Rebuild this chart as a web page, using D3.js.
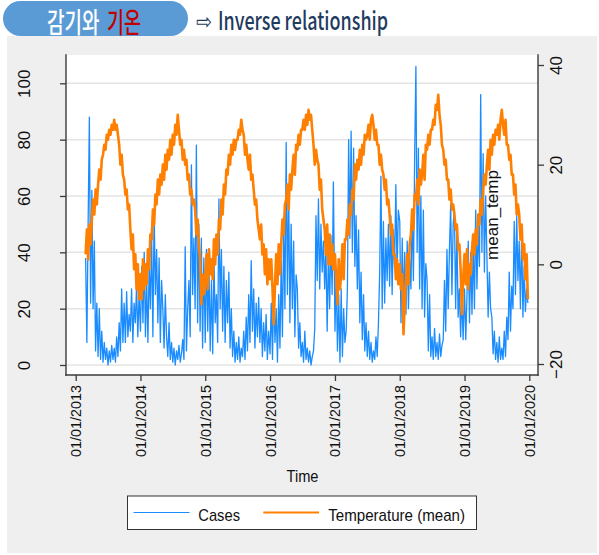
<!DOCTYPE html>
<html><head><meta charset="utf-8">
<script src="https://cdn.jsdelivr.net/npm/d3@7"></script>
<style>body{margin:0;background:#fff;} svg{display:block;}</style>
</head><body>
<svg id="c" width="599" height="555"></svg>
<script>
// ---------- data (weekly readings, week i of a year = Jan 1 + 7*i days) ----------
const years = [2013, 2014, 2015, 2016, 2017, 2018, 2019];
const firstWeek = [8, 0, 0, 0, 0, 0, 0];

const cases2013 = [38, 8,50,88,22, 62,20,44,5,22, 3,20,2,12, 1,8,2,6, 0,5,1,7,2, 6,1,10,3, 15,5,27,8, 22,8,26,10,18, 12,27,8,22, 15,28,10,25];
const cases2014 = [12,35,15,40,10, 30,8,36,20, 46,10,55,25, 41,15,38,8,30, 20,6,25,10, 3,15,2,8, 1,6,0,5,2, 7,1,4,9, 2,42,5,20, 30,10,71,25,45, 20,78,15,50, 12,45,6,38];
const cases2015 = [8,41,12,35,5, 30,4,38,15, 25,8,59,20, 41,12,35,8,30, 15,33,6,20, 3,12,1,8, 2,10,1,6,3, 12,2,17,5, 25,8,37,12, 27,6,22,10,24, 8,20,3,15, 5,18,2,12];
const cases2016 = [4,22,2,27,8, 20,1,25,6, 37,10,50,20, 79,25,63,15,50, 20,44,10,32, 27,6,15,3, 8,1,12,2,6, 1,5,0,3, 5,13,53,30, 59,27,50,33,44, 27,42,12,40, 20,46,25,65];
const cases2017 = [12,32,5,25,1, 27,3,20,8, 12,27,80,45, 83,40,77,35,53, 27,48,15,33, 9,25,5,15, 3,12,2,8,1, 5,2,10,3, 15,33,67,20, 51,22,45,30,50, 28,53,25,48, 35,64,33,55];
const cases2018 = [51,15,45,20,40, 18,44,20,38, 27,55,30,74, 106,40,77,27,60, 20,55,17,36, 30,5,25,3, 10,2,13,3,8, 2,11,3,7, 9,30,12,41, 20,41,57,25,50, 55,20,48,17, 27,10,25,9];
const cases2019 = [27,9,25,44,15, 40,18,44,20, 55,27,50,35, 96,40,75,33,60, 39,17,33,20, 17,4,12,2, 8,1,10,2,6, 2,12,3,17, 9,33,12,28, 20,51,25,53,30, 44,20,48,17, 35,19,27,22];

const temp2013 = [2, 7,1,8,4, 9,13,10,15,12, 16,19,17,21, 22,24,23,26, 25,27,26,28,27, 29,27,28,26, 24,20,22,18, 17,14,15,11,12, 7,3,6,-1, 2,-5,0,-7];
const temp2014 = [-2,-7,1,-5,0, -4,3,-1,6, 5,11,8,14, 12,17,14,18,16, 20,17,22,19, 23,21,25,22, 26,24,28,26,30, 27,24,25,21, 23,20,21,17, 18,14,15,12,13, 11,6,9,4, 1,-8,-2,-6];
const temp2015 = [-3,2,-5,3,-2, 1,-3,5,0, 6,2,9,7, 13,10,16,14,19, 18,22,20,24, 22,25,23,25, 25,27,26,29,27, 26,22,24,21, 19,22,17,18, 15,12,13,9,7, 5,8,2,4, -2,3,-4,1];
const temp2016 = [-3,1,-5,-12,-4, 2,-4,4,-2, 4,9,6,12, 13,16,11,18,15, 19,22,18,24, 23,26,24,27, 27,29,27,30,28, 31,29,30,27, 24,20,23,21, 20,15,17,11,9, 7,2,8,0, 6,0,4,-1];
const temp2017 = [2,-3,-8,1,-5, -2,4,-3,5, 5,9,6,12, 10,15,13,20,17, 21,19,23,20, 24,22,26,25, 26,28,25,29,30, 28,25,27,24, 24,20,22,19, 18,15,17,12,13, 10,6,8,2, 2,-3,1,-4];
const temp2018 = [0,-5,-2,-14,-8, -3,2,-4,4, 6,11,7,14, 13,17,12,19,16, 18,22,17,24, 23,26,24,27, 27,29,28,32,31, 34,30,28,24, 23,20,21,17, 17,13,15,11,12, 10,7,8,3, 4,-1,-10,-3];
const temp2019 = [2,-4,3,-5,0, -2,3,6,2, 7,4,10,8, 13,10,15,18,16, 20,23,19,25, 22,26,24,27, 26,28,25,29,31, 28,26,29,24, 24,21,22,18, 18,14,16,10,12, 10,5,8,1, 4,-3,2,-7];

const leftTicks = [0, 20, 40, 60, 80, 100];
const rightTicks = [-20, 0, 20, 40];
const xTickYears = [2013, 2014, 2015, 2016, 2017, 2018, 2019, 2020];
const seriesNames = ["Cases", "Temperature (mean)"];
const titleKo1 = "감기와";
const titleKo2 = "기온";
const titleEn = "Inverse relationship";
const xTitle = "Time";
const rightTitle = "mean_temp";

// ---------- build ----------
const casesYears = [cases2013, cases2014, cases2015, cases2016, cases2017, cases2018, cases2019];
const tempYears = [temp2013, temp2014, temp2015, temp2016, temp2017, temp2018, temp2019];
function build(arrs) {
  const out = [];
  arrs.forEach((a, k) => a.forEach((v, i) => out.push({
    date: new Date(Date.UTC(years[k], 0, 1 + 7 * (firstWeek[k] + i))), value: v })));
  return out;
}
const casesData = build(casesYears);
const tempData = build(tempYears);

const BLUE = "#1a8cff", ORANGE = "#ff7f00", AXIS = "#3a3a3a";
const FONT = "'Liberation Sans', Arial, sans-serif";
const P = {l: 66, r: 538, t: 55, b: 375};

const svg = d3.select("#c");

// header
svg.append("rect").attr("x", 7).attr("y", 36).attr("width", 590).attr("height", 517).attr("fill", "#efefef");
svg.append("rect").attr("x", 3).attr("y", 1).attr("width", 185).attr("height", 35).attr("rx", 17.5)
  .attr("fill", "#5b9bd5");
svg.append("text").attr("transform", "translate(47,33) scale(0.68,1)")
  .attr("font-family", "'Noto Sans CJK KR', sans-serif").attr("font-size", 28).attr("font-weight", 500)
  .attr("fill", "#fff").text(titleKo1);
svg.append("text").attr("transform", "translate(107,33) scale(0.66,1)")
  .attr("font-family", "'Noto Sans CJK KR', sans-serif").attr("font-size", 28).attr("font-weight", 500)
  .attr("fill", "#c00000").text(titleKo2);
svg.append("text").attr("x", 196).attr("y", 28.5).attr("font-family", "'DejaVu Sans', sans-serif")
  .attr("font-size", 22).attr("fill", "#1f3b5e")
  .attr("textLength", 16).attr("lengthAdjust", "spacingAndGlyphs").text("\u21E8");
svg.append("text").attr("x", 218).attr("y", 29.5).attr("font-family", "'Noto Sans CJK KR', sans-serif")
  .attr("font-size", 25).attr("font-weight", 500).attr("fill", "#1f3b5e")
  .attr("textLength", 170).attr("lengthAdjust", "spacingAndGlyphs").text(titleEn);

// plot area
svg.append("rect").attr("x", P.l).attr("y", P.t).attr("width", P.r - P.l).attr("height", P.b - P.t).attr("fill", "#fff");

const x = d3.scaleUtc().domain([new Date(Date.UTC(2013, 0, 1)), new Date(Date.UTC(2020, 0, 1))]).range([75.7, 529.3]);
const yL = d3.scaleLinear().domain([0, 100]).range([365, 83.3]);
const yR = d3.scaleLinear().domain([-20, 40]).range([364, 65]);

// grid
svg.append("g").selectAll("line").data(leftTicks).join("line")
  .attr("x1", P.l).attr("x2", P.r).attr("y1", d => yL(d)).attr("y2", d => yL(d))
  .attr("stroke", "#e4e4e4").attr("stroke-width", 1.5);

// series
svg.append("defs").append("clipPath").attr("id", "clip").append("rect")
  .attr("x", P.l).attr("y", P.t).attr("width", P.r - P.l).attr("height", P.b - P.t);
const g = svg.append("g").attr("clip-path", "url(#clip)");
g.append("path").datum(casesData)
  .attr("d", d3.line().x(d => x(d.date)).y(d => yL(d.value)))
  .attr("fill", "none").attr("stroke", BLUE).attr("stroke-width", 1.3).attr("stroke-linejoin", "round");
g.append("path").datum(tempData)
  .attr("d", d3.line().x(d => x(d.date)).y(d => yR(d.value)))
  .attr("fill", "none").attr("stroke", ORANGE).attr("stroke-width", 2.6).attr("stroke-linejoin", "round");

// right axis title (inside plot)
svg.append("text").attr("transform", "translate(498,215) rotate(-90)").attr("text-anchor", "middle")
  .attr("font-family", FONT).attr("font-size", 17).attr("fill", "#111").text(rightTitle);

// axes
function styleAxis(sel) {
  sel.select(".domain").remove();
  sel.selectAll(".tick line").attr("stroke", AXIS).attr("stroke-width", 1.3);
  sel.selectAll(".tick text").attr("fill", "#111").attr("font-family", FONT);
}
const ax = svg.append("g").attr("transform", `translate(${P.l},0)`)
  .call(d3.axisLeft(yL).tickValues(leftTicks).tickSize(6).tickSizeOuter(0));
styleAxis(ax);
ax.selectAll(".tick text").attr("x", null).attr("dy", null).attr("text-anchor", "middle")
  .attr("font-size", 17).attr("transform", "translate(-36,0) rotate(-90)");

const ar = svg.append("g").attr("transform", `translate(${P.r},0)`)
  .call(d3.axisRight(yR).tickValues(rightTicks).tickSize(6).tickSizeOuter(0));
styleAxis(ar);
ar.selectAll(".tick text").attr("x", null).attr("dy", null).attr("text-anchor", "middle")
  .attr("font-size", 17).attr("transform", "translate(24,0) rotate(-90)");

const ab = svg.append("g").attr("transform", `translate(0,${P.b})`)
  .call(d3.axisBottom(x).tickValues(xTickYears.map(y => new Date(Date.UTC(y, 0, 1))))
    .tickFormat(d3.utcFormat("%d/%m/%Y")).tickSize(6).tickSizeOuter(0));
styleAxis(ab);
ab.selectAll(".tick text").attr("y", null).attr("dy", null).attr("text-anchor", "end")
  .attr("font-size", 14.4).attr("transform", "translate(5,10) rotate(-90)");

// axis lines
const axLines = [[P.l, P.t, P.l, P.b], [P.r, P.t, P.r, P.b], [P.l, P.b, P.r, P.b]];
svg.append("g").selectAll("line").data(axLines).join("line")
  .attr("x1", d => d[0]).attr("y1", d => d[1]).attr("x2", d => d[2]).attr("y2", d => d[3])
  .attr("stroke", AXIS).attr("stroke-width", 1.4).attr("stroke-linecap", "square");

// x title
svg.append("text").attr("x", 286.5).attr("y", 481.7).attr("font-family", FONT).attr("font-size", 16.5)
  .attr("fill", "#111").attr("textLength", 32).attr("lengthAdjust", "spacingAndGlyphs").text(xTitle);

// legend
const lg = svg.append("g");
lg.append("rect").attr("x", 127.5).attr("y", 496).attr("width", 349).attr("height", 33.5)
  .attr("fill", "#fff").attr("stroke", "#333").attr("stroke-width", 1);
const legendItems = [
  {name: seriesNames[0], color: BLUE, w: 1.2, x1: 133.5, x2: 189.5, tx: 198.3, tl: 41.7},
  {name: seriesNames[1], color: ORANGE, w: 2, x1: 263.3, x2: 319, tx: 328.3, tl: 136.7}
];
legendItems.forEach(it => {
  lg.append("line").attr("x1", it.x1).attr("x2", it.x2).attr("y1", 512.5).attr("y2", 512.5)
    .attr("stroke", it.color).attr("stroke-width", it.w);
  lg.append("text").attr("x", it.tx).attr("y", 520.7).attr("font-family", FONT).attr("font-size", 17)
    .attr("fill", "#111").attr("textLength", it.tl).attr("lengthAdjust", "spacingAndGlyphs").text(it.name);
});
</script>
</body></html>
